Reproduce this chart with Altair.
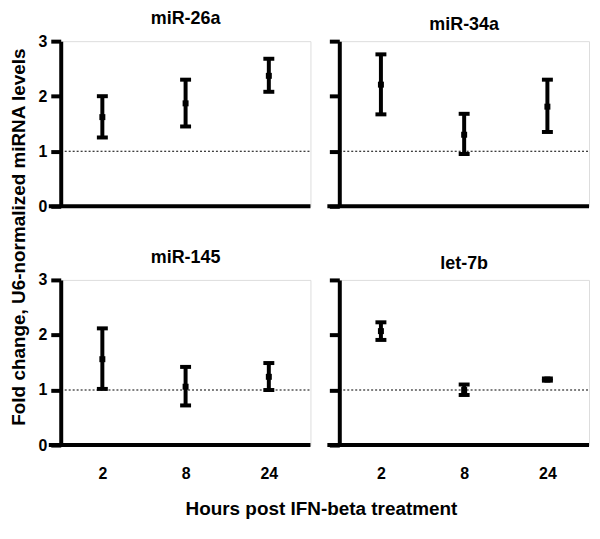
import altair as alt
import pandas as pd

mirnas = ["miR-26a", "miR-34a", "miR-145", "let-7b"]
hours = ["2", "8", "24"]
means = {
    "miR-26a": [1.62, 1.87, 2.37],
    "miR-34a": [2.21, 1.30, 1.81],
    "miR-145": [1.56, 1.06, 1.24],
    "let-7b": [2.07, 1.00, 1.19],
}
lows = {
    "miR-26a": [1.25, 1.45, 2.08],
    "miR-34a": [1.67, 0.95, 1.35],
    "miR-145": [1.02, 0.72, 1.00],
    "let-7b": [1.91, 0.91, 1.17],
}
highs = {
    "miR-26a": [2.00, 2.30, 2.68],
    "miR-34a": [2.76, 1.68, 2.30],
    "miR-145": [2.12, 1.42, 1.49],
    "let-7b": [2.23, 1.10, 1.21],
}
y_ticks = [0, 1, 2, 3]
reference_level = 1

rows = []
for m in mirnas:
    for i, h in enumerate(hours):
        rows.append({"mirna": m, "hours": h, "mean": means[m][i],
                     "lo": lows[m][i], "hi": highs[m][i]})
df = pd.DataFrame(rows)

W, H = 251, 166
FONT = "Liberation Sans"


def panel(name, show_y_labels, show_x_labels):
    base = alt.Chart(df).transform_filter(alt.datum.mirna == name)
    if show_x_labels:
        xaxis = alt.Axis(title=None, domain=False, ticks=False, tickSize=0,
                         labelAngle=0, labelFont=FONT, labelFontSize=16,
                         labelFontWeight="bold", labelColor="black",
                         labelPadding=21)
    else:
        xaxis = None
    xenc = alt.X("hours:N", sort=hours,
                 scale=alt.Scale(type="point", domain=hours, padding=0.5),
                 axis=xaxis)
    yscale = alt.Scale(domain=[0, 3], nice=False)
    yaxis = alt.Axis(title=None, values=y_ticks, grid=False, format="d",
                     domainColor="black", domainWidth=4,
                     tickColor="black", tickWidth=4, tickSize=10,
                     labels=show_y_labels, labelFont=FONT, labelFontSize=16,
                     labelFontWeight="bold", labelColor="black",
                     labelPadding=4)

    dotted = alt.Chart().mark_rule(
        color="black", strokeWidth=1.2, strokeDash=[2, 2]
    ).encode(
        y=alt.Y(datum=reference_level, scale=yscale, axis=yaxis),
        x=alt.value(0), x2=alt.value(W),
    )
    baseline = alt.Chart().mark_rule(color="black", strokeWidth=4).encode(
        y=alt.Y(datum=0, scale=yscale),
        x=alt.value(-12), x2=alt.value(W),
    )
    err = base.mark_rule(color="black", strokeWidth=4).encode(
        x=xenc, y=alt.Y("lo:Q", scale=yscale), y2="hi:Q"
    )
    cap_lo = base.mark_tick(color="black", size=11, thickness=4,
                            orient="horizontal", opacity=1).encode(
        x=xenc, y=alt.Y("lo:Q", scale=yscale)
    )
    cap_hi = base.mark_tick(color="black", size=11, thickness=4,
                            orient="horizontal", opacity=1).encode(
        x=xenc, y=alt.Y("hi:Q", scale=yscale)
    )
    pt = base.mark_square(color="black", size=36, opacity=1, filled=True).encode(
        x=xenc, y=alt.Y("mean:Q", scale=yscale)
    )
    return alt.layer(dotted, baseline, err, cap_lo, cap_hi, pt).properties(
        width=W, height=H,
        title=alt.TitleParams(name, font=FONT, fontSize=18, fontWeight="bold",
                              color="black", anchor="middle", offset=5),
    )


row1 = alt.hconcat(panel("miR-26a", True, False), panel("miR-34a", False, False),
                   spacing=11)
row2 = alt.hconcat(panel("miR-145", True, True), panel("let-7b", False, True),
                   spacing=11)

grid = alt.vconcat(row1, row2, spacing=33).properties(
    title=alt.TitleParams("Fold change, U6-normalized miRNA levels",
                          orient="left", anchor="middle", font=FONT,
                          fontSize=19, fontWeight="bold", color="black",
                          offset=9, dx=9)
)

chart = alt.vconcat(grid).properties(
    title=alt.TitleParams("Hours post IFN-beta treatment", orient="bottom",
                          anchor="middle", font=FONT, fontSize=19,
                          fontWeight="bold", color="black", offset=18, dx=21),
    padding={"left": 1, "top": 0, "right": 0, "bottom": 0},
).configure_view(stroke=None).configure(background="white")

chart.save("out.html", embed_options={"renderer": "svg", "actions": False})
